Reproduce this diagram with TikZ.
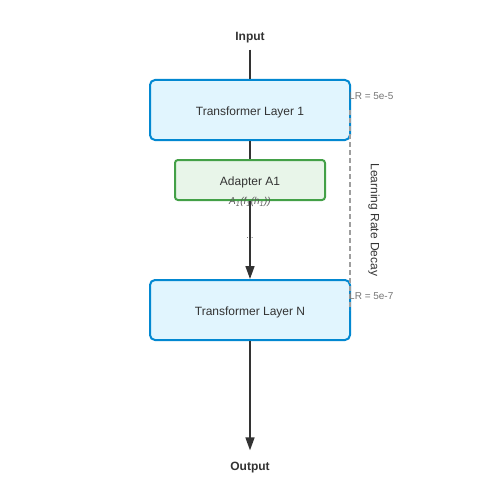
\documentclass[tikz,border=0pt]{standalone}
\usepackage{amsmath}
\usepackage{fontspec}
\setmainfont{Liberation Sans}
\usetikzlibrary{arrows.meta}

\definecolor{layerfill}{HTML}{E1F5FE}
\definecolor{layerline}{HTML}{0288D1}
\definecolor{adapterfill}{HTML}{E8F5E9}
\definecolor{adapterline}{HTML}{43A047}
\definecolor{textdark}{HTML}{333333}
\definecolor{decaygray}{HTML}{9E9E9E}
\definecolor{lrgray}{HTML}{757575}

\begin{document}
\begin{tikzpicture}[x=1pt, y=-1pt,
    layerbox/.style={draw=layerline, fill=layerfill, line width=2pt, rounded corners=5pt,
        minimum width=200pt, minimum height=60pt, text=textdark, text height=11pt, text depth=0.5pt,
        font=\fontsize{12}{14}\selectfont},
    adapterbox/.style={draw=adapterline, fill=adapterfill, line width=2pt, rounded corners=3pt,
        minimum width=150pt, minimum height=40pt, text=textdark, text height=11pt, text depth=0.5pt,
        font=\fontsize{12}{14}\selectfont},
    ioname/.style={text=textdark, inner sep=4pt, font=\bfseries\fontsize{12}{14}\selectfont},
    lrname/.style={text=lrgray, anchor=west, inner sep=0pt, font=\fontsize{10}{12}\selectfont},
    flow/.style={draw=textdark, line width=1.6pt},
    flowarrow/.style={flow, -{Triangle[length=13pt, width=9pt]}}]
    \useasboundingbox (0,0) rectangle (500,500);

    % input and first layer
    \node[ioname] (input) at (250, 38) {Input};
    \node[layerbox] (layer1) at (250, 110) {Transformer Layer 1};
    \draw[flow, shorten <=2pt] (input) -- (layer1);

    % adapter after layer 1
    \node[adapterbox] (adapter) at (250, 180) {Adapter A1};
    \draw[flow] (layer1) -- (adapter);

    % last layer
    \node[layerbox] (layerN) at (250, 310) {Transformer Layer N};
    \draw[flowarrow] (adapter) -- (layerN);
    \node[text=textdark, inner sep=0pt, font=\fontsize{8}{8}\selectfont] (gap) at (250, 238) {...};
    \node[text=textdark!80, inner sep=0pt, font=\itshape\fontsize{10}{12}\selectfont] (fn) at (250, 202)
        {A\textsubscript{1}(f\textsubscript{1}(h\textsubscript{1}))};

    % output
    \node[ioname] (output) at (250, 468) {Output};
    \draw[flowarrow, shorten >=8pt] (layerN) -- (output);

    % learning rate decay along the right side
    \coordinate (decaytop) at (350, 110);
    \coordinate (decaybot) at (350, 310);
    \draw[decaygray, line width=1.2pt, dash pattern=on 5pt off 3pt] (decaytop) -- (decaybot);
    \node[lrname] (lr1) at (349, 96) {LR = 5e-5};
    \node[lrname] (lrN) at (349, 296) {LR = 5e-7};
    \node[text=textdark, rotate=-90, font=\fontsize{12}{14}\selectfont] (decay) at (374, 220) {Learning Rate Decay};
\end{tikzpicture}
\end{document}
